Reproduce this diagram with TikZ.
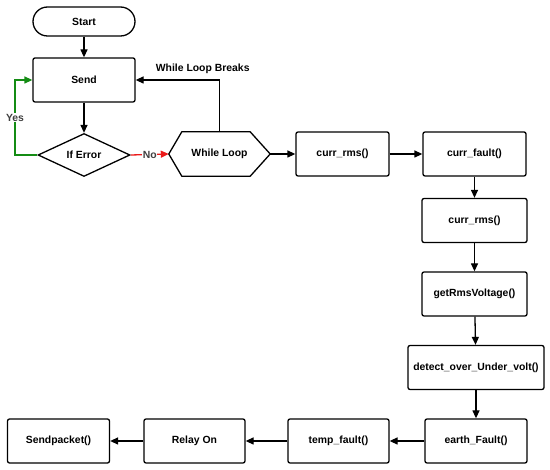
\documentclass[tikz,border=0pt]{standalone}
\usepackage{fontspec}
\setmainfont{Liberation Sans}
\usetikzlibrary{arrows.meta, shapes.geometric}
\definecolor{yesgreen}{RGB}{20,140,20}
\definecolor{nored}{RGB}{235,25,25}

\begin{document}
\begin{tikzpicture}[x=1pt, y=-1pt,
    font=\fontsize{10.4}{12}\selectfont\bfseries,
    box/.style={draw, line width=1.3pt, rounded corners=2pt, minimum height=44pt, inner sep=0pt},
    arr/.style={line width=1.3pt, -{Triangle[length=8pt,width=7pt]}}]
    \useasboundingbox (0,0) rectangle (550,470);

    \node[box, rounded corners=14.5pt, minimum width=102pt, minimum height=29pt] (start) at (84,21.5) {Start};
    \node[box, minimum width=102pt] (send) at (84,80) {Send};
    \node[draw, diamond, line width=1.3pt, minimum width=92pt, minimum height=43pt, inner sep=0pt] (iferr) at (84,155) {If Error};
    \node[minimum width=101pt, minimum height=44pt, inner sep=0pt] (wloop) at (219.5,154) {While Loop};
    \draw[line width=1.3pt, line join=round] (wloop.west) -- ([xshift=13pt]wloop.north west) -- ([xshift=-20pt]wloop.north east)
        -- (wloop.east) -- ([xshift=-20pt]wloop.south east) -- ([xshift=13pt]wloop.south west) -- cycle;

    \node[box, minimum width=93pt] (rms1) at (342.5,154) {curr\_rms()};
    \node[box, minimum width=103pt] (fault) at (474.5,154) {curr\_fault()};
    \node[box, minimum width=105pt] (rms2) at (474.5,220.5) {curr\_rms()};
    \node[box, minimum width=105pt] (volt) at (474.5,294) {getRmsVoltage()};
    \node[box, minimum width=136pt] (detect) at (476,367.5) {detect\_over\_Under\_volt()};
    \node[box, minimum width=102pt] (earth) at (476,441) {earth\_Fault()};
    \node[box, minimum width=101pt] (temp) at (338.5,441) {temp\_fault()};
    \node[box, minimum width=101pt] (relay) at (194.5,441) {Relay On};
    \node[box, minimum width=102pt] (sendpkt) at (58.5,441) {Sendpacket()};

    \coordinate (yes1) at (15,155);
    \coordinate (yes2) at (15,80);
    \coordinate (brk) at (219.5,80);

    \path[arr] (start) edge (send);
    \path[arr] (send) edge (iferr);
    \draw[arr, yesgreen] (iferr.west) -- (yes1) -- node[fill=white, text=black!75, inner sep=1pt] {Yes} (yes2) -- (send.west);
    \draw[arr, nored] (iferr.east) -- node[fill=white, text=black!75, inner sep=0.5pt] {No} (wloop.west);
    \draw[arr] (wloop.north) -- (brk) -- node[above=2pt, pos=0.2] (brklbl) {While Loop Breaks} (send.east);
    \path[arr] (wloop) edge (rms1);
    \path[arr] (rms1) edge (fault);
    \path[arr] (fault) edge (rms2);
    \path[arr] (rms2) edge (volt);
    \path[arr] (volt) edge (detect);
    \path[arr] (detect.south -| earth.north) edge (earth);
    \path[arr] (earth) edge (temp);
    \path[arr] (temp) edge (relay);
    \path[arr] (relay) edge (sendpkt);
\end{tikzpicture}
\end{document}
